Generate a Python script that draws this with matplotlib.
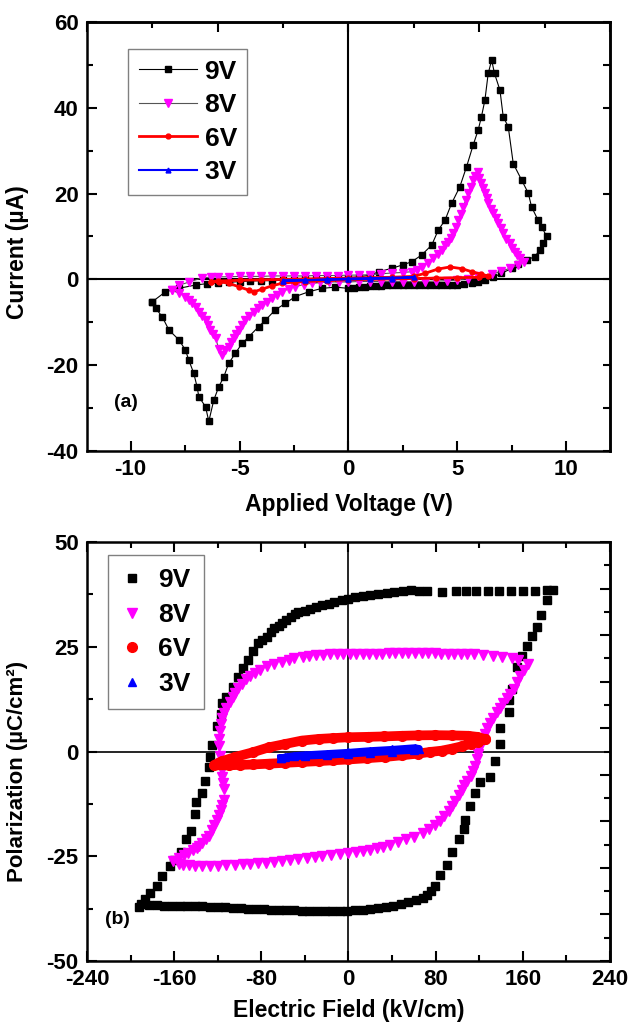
import numpy as np
import matplotlib
matplotlib.use('Agg')
from matplotlib import pyplot as plt
from matplotlib.ticker import MultipleLocator

plt.rcParams['font.family'] = ['Liberation Sans', 'DejaVu Sans']
plt.rcParams['font.weight'] = 'bold'
plt.rcParams['axes.unicode_minus'] = False

# (a) current vs applied voltage, one closed loop per amplitude
v9 = [-9.0, -8.4, -7.8, -7.0, -6.5, -6.0, -5.5, -5.0, -4.5, -4.0, -3.5, -3.0, -2.5, -2.0, -1.5, -1.0,
      -0.5, 0.0, 0.5, 1.0, 1.4, 2.0, 2.5, 2.9,
      3.36, 3.82, 4.12, 4.43, 4.73, 5.11, 5.42, 5.72, 5.95, 6.1, 6.26, 6.41, 6.57, 6.7, 6.95, 7.1,
      7.33, 7.56, 7.94, 8.25, 8.4, 8.7, 8.86, 9.09, 8.94, 8.78, 8.55, 8.17, 7.79, 7.5, 7.02, 6.64,
      6.26, 5.95, 5.65, 5.3, 5.0, 4.75, 4.5, 4.25, 4.0, 3.75, 3.5, 3.25, 3.0, 2.75, 2.5, 2.25, 2.0,
      1.75, 1.5, 1.25, 1.0, 0.75, 0.5, 0.25, 0.0, -0.61, -1.22, -1.83, -2.44,
      -2.9, -3.36, -3.81, -4.12, -4.58, -4.88, -5.19, -5.5, -5.72, -5.95, -6.18, -6.41, -6.56, -6.87,
      -6.95, -7.1, -7.33, -7.48, -7.78, -8.24, -8.55, -8.85, -9.0]
i9 = [-5.2, -2.9, -2.1, -1.3, -1.0, -0.9, -0.7, -0.5, -0.4, -0.3, -0.3, -0.2, -0.1, 0.0, 0.1, 0.2,
      0.3, 0.4, 0.6, 1.0, 1.8, 2.6, 3.4, 4.1,
      5.7, 8.0, 11.5, 13.8, 17.7, 21.6, 26.3, 31.3, 34.8, 37.9, 41.8, 48.0, 51.1, 48.0, 44.1, 37.9,
      35.6, 27.0, 23.2, 20.1, 16.9, 13.8, 12.3, 10.0, 8.4, 6.9, 5.3, 4.5, 3.7, 2.6, 1.4, 0.5,
      -0.1, -0.5, -0.9, -1.1, -1.2, -1.3, -1.3, -1.2, -1.2, -1.3, -1.4, -1.4, -1.3, -1.4, -1.4, -1.3, -1.3,
      -1.4, -1.5, -1.5, -1.6, -1.7, -1.8, -1.9, -2.1, -1.8, -2.1, -2.9, -4.0,
      -5.6, -7.1, -9.5, -11.0, -13.4, -14.9, -17.2, -19.6, -22.7, -25.0, -28.1, -33.1, -29.7, -27.3,
      -25.0, -21.9, -18.8, -16.5, -14.1, -11.8, -8.7, -6.7, -5.2]

v8 = [-8.1, -7.8, -7.3, -6.7, -6.3, -6.0, -5.5, -5.0, -4.5, -4.0, -3.5, -3.0, -2.5, -2.0, -1.5, -1.0,
      -0.5, 0.0, 0.5, 1.0, 1.5, 2.0, 2.5, 2.9, 3.15, 3.36, 3.65, 3.9, 4.1, 4.28, 4.45, 4.58, 4.7, 4.81,
      4.93, 5.04, 5.15, 5.27, 5.38, 5.5, 5.61, 5.72, 5.82, 5.92, 6.0, 6.1, 6.18, 6.26, 6.34, 6.41, 6.52,
      6.64, 6.75, 6.87, 6.98, 7.1, 7.25, 7.41, 7.52, 7.64, 7.75, 7.87, 8.06, 7.79, 7.4, 7.02, 6.57,
      5.95, 5.5, 5.0, 4.5, 4.0, 3.5, 3.0, 2.5, 2.0, 1.5, 1.0, 0.5, 0.0, -0.45, -0.9, -1.3, -1.68, -2.05,
      -2.44, -2.75, -3.05, -3.28, -3.51, -3.75, -3.97, -4.15, -4.35, -4.55, -4.73, -4.9, -5.04, -5.15,
      -5.27, -5.4, -5.5, -5.65, -5.8, -5.95, -6.1, -6.22, -6.34, -6.45, -6.56, -6.7, -6.87, -7.0,
      -7.18, -7.33, -7.48, -7.8, -8.1]
i8 = [-2.5, -1.4, -0.6, 0.4, 0.5, 0.6, 0.6, 0.7, 0.7, 0.7, 0.8, 0.8, 0.8, 0.8, 0.9, 0.9,
      0.9, 1.0, 1.0, 1.1, 1.3, 1.5, 1.6, 1.8, 2.3, 3.0, 3.9, 4.9, 5.9, 6.9, 7.9, 8.8, 9.7, 10.7,
      12.2, 13.8, 15.3, 16.9, 18.5, 20.1, 21.6, 23.2, 24.2, 25.1, 23.7, 22.4, 21.2, 20.1, 18.9, 17.7, 16.5,
      15.4, 14.2, 13.1, 11.9, 10.7, 9.5, 8.4, 7.4, 6.4, 5.6, 4.9, 4.1, 3.3, 2.6, 1.9, 1.2,
      0.7, 0.2, -0.2, -0.3, -0.4, -0.5, -0.5, -0.5, -0.5, -0.5, -0.5, -0.5, -0.6, -0.6, -0.6, -0.7, -0.9, -1.2,
      -1.7, -2.2, -2.9, -3.6, -4.4, -5.2, -6.0, -6.7, -7.5, -8.5, -9.5, -10.6, -11.8, -12.7,
      -13.7, -14.7, -15.7, -16.5, -17.6, -16.2, -13.7, -12.8, -11.8, -10.6, -9.5, -8.5, -7.5, -6.5,
      -5.6, -4.8, -4.0, -3.2, -2.5]

v6 = [-6.3, -6.0, -5.0, -4.0, -3.0, -2.0, -1.0, 0.0, 1.0, 2.0, 3.0, 3.5, 4.1, 4.66, 5.2, 5.65, 6.1,
      6.4, 6.0, 5.0, 4.0, 3.0, 2.0, 1.0, 0.0, -1.0, -2.0, -2.44, -3.05, -3.51, -3.97, -4.35, -4.58,
      -5.04, -5.5, -5.95, -6.3]
i6 = [-0.5, -0.4, -0.2, -0.1, 0.0, 0.1, 0.2, 0.3, 0.4, 0.5, 0.7, 1.4, 2.4, 2.9, 2.5, 1.8, 1.2,
      0.8, 0.5, 0.4, 0.3, 0.2, 0.1, 0.0, -0.1, -0.3, -0.5, -0.6, -0.9, -1.5, -2.3, -2.9, -2.5,
      -1.7, -0.9, -0.5, -0.5]

v3 = [-3.0, -2.0, -1.0, 0.0, 1.0, 2.0, 3.0, 2.0, 1.0, 0.0, -1.0, -2.0, -3.0]
i3 = [-0.3, -0.2, 0.0, 0.2, 0.3, 0.4, 0.5, 0.2, 0.1, 0.0, -0.1, -0.2, -0.3]

# (b) polarization vs electric field
e9 = [-192, -187, -182, -176, -171, -164, -160, -154, -149, -145, -141, -140, -134, -132, -128, -127,
      -125, -121, -117, -116, -112, -106, -101, -97, -92, -88, -83, -79, -75, -71, -68, -64, -61, -57,
      -53, -49, -46, -40, -35, -30, -24, -18, -13, -6, 0, 6, 13, 20, 27.5, 35, 42, 50, 57, 65, 72, 86,
      99, 108, 117, 128, 138, 149, 160, 171, 182, 188,
      182, 177, 173, 168, 164, 159, 154.5, 150, 147, 147, 139, 138.6, 134.7, 130, 121, 116.4, 111.8,
      107, 105.7, 101, 95, 90, 84, 79, 76, 72, 68, 62, 55, 48, 41, 34, 27, 20, 13, 6, -1, -8, -15,
      -22, -29, -36, -43, -50, -57, -64, -71, -78, -85, -92, -99, -106, -113, -120, -127, -134, -141,
      -148, -155, -162, -169, -176, -183, -190]
p9 = [-37.0, -35.3, -33.7, -32.0, -29.8, -27.4, -26.0, -24.0, -21.0, -19.0, -15.0, -12.0, -10.0, -7.0,
      -3.6, -1.2, 1.6, 6.0, 9.0, 11.5, 13.0, 15.5, 17.9, 20.0, 21.8, 24.0, 25.8, 26.6, 27.4, 28.5, 29.4,
      30.0, 30.6, 31.3, 32.0, 32.7, 33.3, 33.6, 34.0, 34.5, 35.0, 35.3, 35.7, 36.1, 36.5, 36.8, 37.0,
      37.4, 37.7, 37.9, 38.0, 38.3, 38.5, 38.4, 38.3, 38.0, 38.3, 38.3, 38.3, 38.3, 38.3, 38.3, 38.3,
      38.3, 38.5, 38.6,
      36.1, 32.6, 29.8, 27.5, 25.2, 22.8, 20.1, 15.0, 12.3, 9.5, 5.6, 1.9, -2.2, -6.1, -7.3, -10.0,
      -13.1, -16.3, -18.6, -20.9, -24.0, -27.0, -29.5, -32.0, -33.3, -34.2, -35.0, -35.5, -36.0, -36.4,
      -36.8, -37.1, -37.4, -37.6, -37.8, -37.9, -38.0, -38.0, -38.0, -38.0, -38.0, -38.0, -38.0, -37.9,
      -37.9, -37.8, -37.8, -37.7, -37.6, -37.5, -37.4, -37.3, -37.2, -37.1, -37.0, -36.9, -36.9, -36.9,
      -36.9, -36.8, -36.8, -36.7, -36.6, -36.5]

e8 = [165, 156, 150, 141, 133, 123, 115, 109, 103, 97, 91, 85, 79, 73, 67, 61, 55, 49, 43, 37, 31, 25,
      19, 13, 7, 1, -5, -11, -17, -23, -30, -36, -42, -50, -55, -61, -68, -75, -81, -86, -90, -94, -98,
      -101, -104, -106, -109, -112, -114, -116, -117, -118, -119, -119, -118, -117, -116, -116, -115,
      -114, -114, -116, -117, -119, -121, -123, -125, -128, -131, -134, -137, -139, -143, -147, -151,
      -156, -161, -156, -152, -146, -141, -134, -127, -120, -112, -104, -97, -90, -83, -76, -68, -61,
      -54, -46, -38.5, -31, -24, -16.5, -8, 0, 7, 13, 20, 26, 32, 38.5, 45, 53, 60, 68, 74, 79, 84, 88,
      92, 95, 98, 101, 104, 106, 109, 112, 114, 116, 118, 119, 120, 121, 123, 125, 127, 130, 133, 136,
      139, 142, 145.4, 148.5, 151.5, 154.5, 157.6, 161]
p8 = [20.9, 21.8, 22.3, 22.6, 22.9, 23.0, 23.2, 23.3, 23.3, 23.3, 23.3, 23.3, 23.4, 23.4, 23.4, 23.4,
      23.4, 23.4, 23.4, 23.4, 23.3, 23.3, 23.3, 23.3, 23.3, 23.3, 23.3, 23.3, 23.2, 23.1, 23.0, 22.8,
      22.6, 22.2, 21.9, 21.4, 20.9, 20.4, 19.5, 18.8, 18.0, 17.2, 16.2, 15.2, 14.0, 13.0, 11.8, 10.5,
      9.3, 8.0, 6.5, 5.0, 3.0, 1.2, -1.0, -2.8, -4.5, -6.0, -7.5, -9.0, -11.5, -12.7, -13.9, -15.1,
      -16.3, -17.5, -18.7, -20.2, -21.0, -21.8, -22.5, -23.0, -23.6, -24.2, -24.8, -25.4, -26.2,
      -26.8, -27.0, -27.2, -27.4, -27.4, -27.4, -27.3, -27.2, -27.0, -26.9, -26.8, -26.6, -26.5, -26.3,
      -26.2, -26.0, -25.7, -25.4, -25.2, -24.9, -24.6, -24.4, -24.2, -24.0, -23.8, -23.4, -23.1, -22.7,
      -22.2, -21.7, -21.0, -20.3, -19.4, -18.5, -17.5, -16.5, -15.5, -14.3, -13.0, -11.8, -10.5, -9.3,
      -8.1, -7.0, -5.8, -4.6, -3.4, -1.8, -0.6, 0.6, 1.5, 3.0, 4.2, 5.6, 6.8, 8.0, 9.4, 10.3, 11.5, 12.7,
      13.8, 15.0, 16.5, 18.1, 19.5]

e6 = [125, 118, 110, 95, 79, 64, 49, 33, 18, 0, -14, -27.5, -43, -58, -73, -88, -104, -116, -121,
      -123, -110, -100, -88, -73, -58, -43, -27.5, -14, 0, 17, 33.6, 49, 64, 75, 85.5, 95, 104, 112,
      119, 125]
p6 = [3.0, 3.5, 3.75, 3.85, 3.9, 3.85, 3.75, 3.6, 3.5, 3.4, 3.2, 3.0, 2.6, 1.8, 1.0, -0.2, -1.3, -2.3,
      -2.9, -3.3, -3.3, -3.2, -3.1, -2.9, -2.7, -2.5, -2.3, -2.1, -1.9, -1.6, -1.3, -0.9, -0.5, -0.1,
      0.2, 0.7, 1.25, 1.8, 2.3, 3.0]

e3 = [-62, -50, -40, -20, 0, 20, 40, 61, 65, 60, 40, 20, 0, -20, -40, -58, -62]
p3 = [-1.5, -1.0, -0.8, -0.5, -0.2, 0.2, 0.5, 0.9, 0.7, 0.3, 0.0, -0.3, -0.6, -0.9, -1.1, -1.4, -1.5]

fig = plt.figure(figsize=(6.29, 10.32), dpi=100)
ax1 = fig.add_axes([0.1383, 0.5630, 0.8315, 0.4157])
ax2 = fig.add_axes([0.1383, 0.0688, 0.8315, 0.4060])

# --- (a) ---
ax1.plot(v9, i9, color='black', lw=0.8, marker='s', ms=4, label='9V')
ax1.plot(v8, i8, color='#555555', lw=0.8, marker='v', ms=5.5, mfc='#FF00FF', mec='#FF00FF', label='8V')
ax1.plot(v6, i6, color='#FF0000', lw=2.0, marker='o', ms=3.5, label='6V')
ax1.plot(v3, i3, color='#0000FF', lw=1.5, marker='^', ms=3.5, label='3V')
ax1.axhline(0, color='black', lw=1.5, zorder=1)
ax1.axvline(0, color='black', lw=1.5, zorder=1)
ax1.set_xlim(-12, 12)
ax1.set_ylim(-40, 60)
ax1.xaxis.set_major_locator(MultipleLocator(5))
ax1.xaxis.set_minor_locator(MultipleLocator(2.5))
ax1.yaxis.set_major_locator(MultipleLocator(20))
ax1.yaxis.set_minor_locator(MultipleLocator(10))
ax1.set_xlabel('Applied Voltage (V)', fontsize=16.5, fontweight='bold', labelpad=9)
ax1.set_ylabel('Current (\u00b5A)', fontsize=16.5, fontweight='bold')
ax1.yaxis.set_label_coords(-0.11, 0.464)
ax1.text(-10.2, -28.8, '(a)', fontsize=14, fontweight='bold', ha='center', va='center')
h1, l1 = ax1.get_legend_handles_labels()
leg1 = ax1.legend(h1, l1, loc='upper left', bbox_to_anchor=(128 / 629, 1 - 49 / 1032),
                  bbox_transform=fig.transFigure, borderaxespad=0, fancybox=False,
                  edgecolor='#808080', framealpha=1, numpoints=1, handlelength=2.2,
                  handletextpad=0.3, labelspacing=0.36, borderpad=0.4,
                  prop={'size': 19, 'weight': 'bold'})
leg1.get_frame().set_linewidth(1.0)
sx1 = ax1.secondary_xaxis('top')
sx1.xaxis.set_major_locator(MultipleLocator(6))
sx1.xaxis.set_minor_locator(MultipleLocator(3))
sx1.tick_params(which='both', direction='in', labeltop=False, width=1.5)
sx1.tick_params(which='major', length=7)
sx1.tick_params(which='minor', length=4)
sy1 = ax1.secondary_yaxis('right')
sy1.yaxis.set_major_locator(MultipleLocator(10))
sy1.tick_params(direction='in', labelright=False, width=1.5, length=5)

# --- (b) ---
ax2.plot(e9, p9, ls='none', color='black', marker='s', ms=5.5, label='9V')
ax2.plot(e8, p8, ls='none', color='#FF00FF', marker='v', ms=7, label='8V')
ax2.plot(e6, p6, ls='none', color='#FF0000', marker='o', ms=7, label='6V')
ax2.plot(e6, p6, color='#FF0000', lw=7, solid_capstyle='round')
ax2.plot(e3, p3, ls='none', color='#0000FF', marker='^', ms=6, label='3V')
ax2.plot(e3, p3, color='#0000FF', lw=5)
ax2.axhline(0, color='black', lw=1.2, zorder=1)
ax2.axvline(0, color='black', lw=1.2, zorder=1)
ax2.set_xlim(-240, 240)
ax2.set_ylim(-50, 50)
ax2.xaxis.set_major_locator(MultipleLocator(80))
ax2.xaxis.set_minor_locator(MultipleLocator(40))
ax2.yaxis.set_major_locator(MultipleLocator(25))
ax2.yaxis.set_minor_locator(MultipleLocator(12.5))
ax2.set_xlabel('Electric Field (kV/cm)', fontsize=16.5, fontweight='bold', labelpad=6)
ax2.set_ylabel('Polarization (\u00b5C/cm\u00b2)', fontsize=16, fontweight='bold')
ax2.yaxis.set_label_coords(-0.112, 0.453)
ax2.text(-212, -40, '(b)', fontsize=14, fontweight='bold', ha='center', va='center')
h2, l2 = ax2.get_legend_handles_labels()
leg2 = ax2.legend(h2, l2, loc='upper left', bbox_to_anchor=(108 / 629, 1 - 555 / 1032),
                  bbox_transform=fig.transFigure, borderaxespad=0, fancybox=False,
                  edgecolor='#808080', framealpha=1, numpoints=1, handlelength=0.85,
                  handletextpad=0.55, labelspacing=0.4, borderpad=0.5,
                  prop={'size': 19, 'weight': 'bold'})
leg2.get_frame().set_linewidth(1.0)
sy2 = ax2.secondary_yaxis('right', functions=(lambda y: y * 9 / 50, lambda y: y * 50 / 9))
sy2.set_yticks([-9, -7, -5, -3, -1, 1, 3, 5, 7, 9])
sy2.set_yticks([-8, -6, -4, -2, 0, 2, 4, 6, 8], minor=True)
sy2.tick_params(which='both', direction='in', labelright=False, width=1.5)
sy2.tick_params(which='major', length=7)
sy2.tick_params(which='minor', length=4)

for ax in (ax1, ax2):
    ax.tick_params(which='both', direction='in', width=1.5, labelsize=16, pad=6)
    ax.tick_params(which='major', length=7)
    ax.tick_params(which='minor', length=4)
    ax.tick_params(top=(ax is ax2), right=False, which='both')
    for s in ax.spines.values():
        s.set_linewidth(1.8)
    for lab in ax.get_xticklabels() + ax.get_yticklabels():
        lab.set_fontweight('bold')
for s in (sx1, sy1, sy2):
    for sp in s.spines.values():
        sp.set_linewidth(1.8)

fig.savefig('out.png', dpi=100)
